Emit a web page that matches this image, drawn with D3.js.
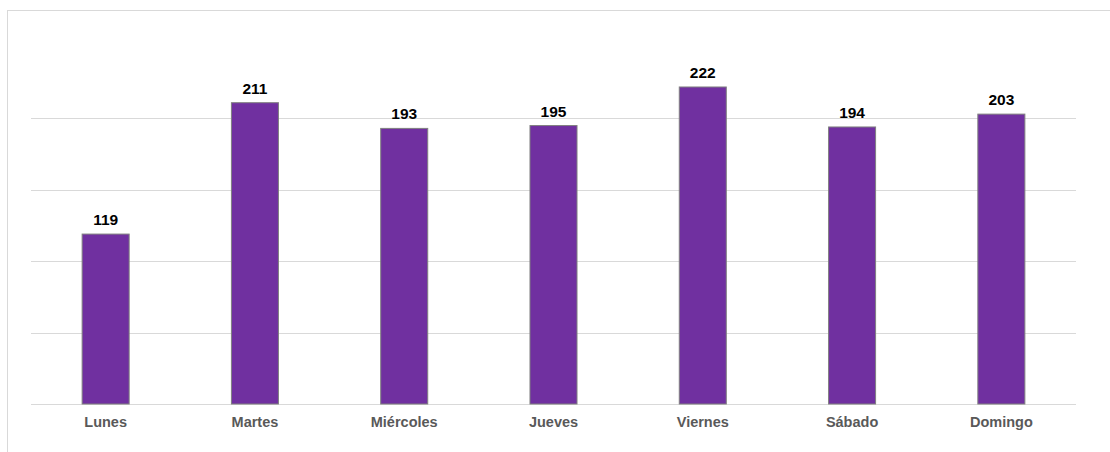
<!DOCTYPE html>
<html>
<head>
<meta charset="utf-8">
<script src="https://cdn.jsdelivr.net/npm/d3@7"></script>
<style>
  html, body { margin: 0; padding: 0; background: #fff; }
  svg { display: block; }
</style>
</head>
<body>
<svg id="chart" width="1110" height="452"></svg>
<script>
// Visits per day of the week
const days = ["Lunes", "Martes", "Miércoles", "Jueves", "Viernes", "Sábado", "Domingo"];
const visits = [119, 211, 193, 195, 222, 194, 203];
const gridTicks = [0, 50, 100, 150, 200, 250];

const svg = d3.select("#chart");
const W = 1110, H = 452;
const plot = { left: 31, right: 1076, top: 47, bottom: 404 };

// outer chart frame
svg.append("rect")
  .attr("x", 7.5).attr("y", 10.5)
  .attr("width", W).attr("height", H)
  .attr("fill", "#fff")
  .attr("stroke", "#d9d9d9").attr("stroke-width", 1);

const x = d3.scaleBand()
  .domain(days)
  .range([plot.left, plot.right])
  .paddingInner(0.685)
  .paddingOuter(0.3425);

const y = d3.scaleLinear()
  .domain([0, 250])
  .range([plot.bottom, plot.top]);

// horizontal gridlines (top tick omitted)
svg.append("g")
  .selectAll("line")
  .data(gridTicks.slice(0, -1))
  .join("line")
  .attr("x1", plot.left).attr("x2", plot.right)
  .attr("y1", d => Math.round(y(d)) + 0.5)
  .attr("y2", d => Math.round(y(d)) + 0.5)
  .attr("stroke", "#d9d9d9").attr("stroke-width", 1);

// bars
svg.append("g")
  .selectAll("rect")
  .data(days)
  .join("rect")
  .attr("x", d => x(d))
  .attr("y", (d, i) => y(visits[i]))
  .attr("width", x.bandwidth())
  .attr("height", (d, i) => y(0) - y(visits[i]))
  .attr("fill", "#7030a0")
  .attr("stroke", "#808080").attr("stroke-width", 1);

// value labels
svg.append("g")
  .selectAll("text")
  .data(days)
  .join("text")
  .attr("x", d => x(d) + x.bandwidth() / 2)
  .attr("y", (d, i) => y(visits[i]) - 9)
  .attr("text-anchor", "middle")
  .attr("font-family", "'Liberation Sans', Arial, sans-serif")
  .attr("font-weight", "bold")
  .attr("font-size", 15.5)
  .attr("fill", "#000")
  .text((d, i) => visits[i]);

// category axis
const xAxis = svg.append("g")
  .attr("transform", `translate(0,${plot.bottom})`)
  .call(d3.axisBottom(x).tickSize(0).tickPadding(13));
xAxis.select(".domain").remove();
xAxis.selectAll("text")
  .attr("font-family", "'Liberation Sans', Arial, sans-serif")
  .attr("font-weight", "bold")
  .attr("font-size", 14.5)
  .attr("fill", "#595959");
</script>
</body>
</html>
